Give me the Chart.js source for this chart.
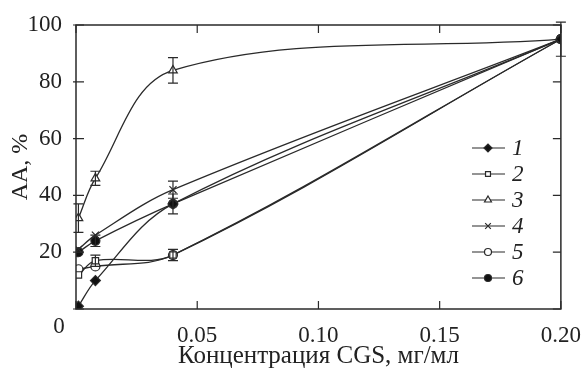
<!DOCTYPE html>
<html>
    <head>
        <title>AA vs CGS concentration</title>
        <script src="https://cdn.jsdelivr.net/npm/chart.js@4.4.0/dist/chart.umd.min.js"></script>
        <style>
            body { margin: 0; background: #ffffff; }
        </style>
    </head>
    <body>
        <canvas id="aaChart" width="586" height="374"></canvas>

        <script>
            //Concentrations of CGS, mg/ml
            const conc = [0.001, 0.008, 0.04, 0.2];

            //Series names shown in the legend
            const seriesNames = ["1", "2", "3", "4", "5", "6"];

            //AA, % for every series
            const series1 = [1, 10, 37, 95];
            const series2 = [12, 17, 19, 95];
            const series3 = [32, 46, 84, 95];
            const series4 = [21, 26, 42, 95];
            const series5 = [14, 15, 19, 95];
            const series6 = [20, 24, 37, 95];

            //Error bar half heights (0 = no bar)
            const err1 = [0, 0, 0, 0];
            const err2 = [0, 2, 2, 0];
            const err3 = [5, 2.5, 4.5, 6];
            const err4 = [0, 0, 3, 0];
            const err5 = [0, 0, 0, 0];
            const err6 = [0, 2, 3.5, 0];

            //Tick labels
            const xTicks = [0, 0.05, 0.10, 0.15, 0.20];
            const yTicks = [0, 20, 40, 60, 80, 100];

            const allSeries = [series1, series2, series3, series4, series5, series6];
            const allErrors = [err1, err2, err3, err4, err5, err6];
            const markers = [
                {style: "rectRot", fill: "#111", radius: 5},
                {style: "rect", fill: "#fff", radius: 4.5},
                {style: "triangle", fill: "#fff", radius: 5},
                {style: "crossRot", fill: "#111", radius: 5},
                {style: "circle", fill: "#fff", radius: 4.5},
                {style: "circle", fill: "#111", radius: 4.5}
            ];

            const ink = "#2a2a2a";
            const font = "'Liberation Serif', 'Times New Roman', serif";

            //Build datasets from the arrays
            const datasets = [];
            for(var i = 0; i < allSeries.length; i++){
                const pts = [];
                for(var j = 0; j < conc.length; j++){
                    pts.push({x: conc[j], y: allSeries[i][j]});
                }
                datasets.push({
                    label: seriesNames[i],
                    data: pts,
                    borderColor: ink,
                    borderWidth: 1.3,
                    pointStyle: markers[i].style,
                    pointRadius: markers[i].radius,
                    pointBackgroundColor: markers[i].fill,
                    pointBorderColor: ink,
                    pointBorderWidth: 1.2,
                    tension: 0.35,
                    fill: false
                });
            }

            //Frame, inward ticks, error bars, legend
            const decorPlugin = {
                id: "decor",
                afterDatasetsDraw(chart) {
                    const ctx = chart.ctx;
                    const xs = chart.scales.x;
                    const ys = chart.scales.y;
                    ctx.save();
                    ctx.strokeStyle = ink;
                    ctx.lineWidth = 1.2;
                    for(var i = 0; i < allErrors.length; i++){
                        for(var j = 0; j < conc.length; j++){
                            const e = allErrors[i][j];
                            if(!e) continue;
                            const px = xs.getPixelForValue(conc[j]);
                            const top = ys.getPixelForValue(allSeries[i][j] + e);
                            const bot = ys.getPixelForValue(allSeries[i][j] - e);
                            ctx.beginPath();
                            ctx.moveTo(px, top); ctx.lineTo(px, bot);
                            ctx.moveTo(px - 5, top); ctx.lineTo(px + 5, top);
                            ctx.moveTo(px - 5, bot); ctx.lineTo(px + 5, bot);
                            ctx.stroke();
                        }
                    }
                    ctx.restore();
                },
                afterDraw(chart) {
                    const ctx = chart.ctx;
                    const a = chart.chartArea;
                    const xs = chart.scales.x;
                    const ys = chart.scales.y;
                    ctx.save();
                    ctx.strokeStyle = ink;
                    ctx.lineWidth = 1.5;
                    ctx.strokeRect(a.left, a.top, a.right - a.left, a.bottom - a.top);

                    //Inward tick marks on all four sides
                    ctx.lineWidth = 1.2;
                    ctx.beginPath();
                    xTicks.forEach(function(v){
                        const px = xs.getPixelForValue(v);
                        ctx.moveTo(px, a.bottom); ctx.lineTo(px, a.bottom - 8);
                        ctx.moveTo(px, a.top); ctx.lineTo(px, a.top + 8);
                    });
                    yTicks.forEach(function(v){
                        const py = ys.getPixelForValue(v);
                        ctx.moveTo(a.left - 3, py); ctx.lineTo(a.left + 8, py);
                        ctx.moveTo(a.right, py); ctx.lineTo(a.right - 8, py);
                    });
                    ctx.stroke();

                    //Origin label
                    ctx.fillStyle = "#222";
                    ctx.font = "23px " + font;
                    ctx.textAlign = "center";
                    ctx.textBaseline = "middle";
                    ctx.fillText("0", a.left - 17, 327);

                    //Legend: line sample + marker + italic number
                    for(var i = 0; i < datasets.length; i++){
                        const ly = 148 + i * 26;
                        const lx = 472;
                        ctx.strokeStyle = ink;
                        ctx.lineWidth = 1.2;
                        ctx.beginPath();
                        ctx.moveTo(lx, ly); ctx.lineTo(lx + 33, ly);
                        ctx.stroke();
                        ctx.fillStyle = markers[i].fill;
                        if(Chart.helpers && Chart.helpers.drawPoint){
                            Chart.helpers.drawPoint(ctx, {
                                pointStyle: markers[i].style,
                                radius: markers[i].radius - 1,
                                rotation: 0,
                                borderWidth: 1.2
                            }, lx + 16, ly);
                        }
                        ctx.fillStyle = "#222";
                        ctx.font = "italic 23px " + font;
                        ctx.textAlign = "left";
                        ctx.textBaseline = "middle";
                        ctx.fillText(seriesNames[i], lx + 40, ly + 1);
                    }
                    ctx.restore();
                }
            };

            const config = {
                type: "line",
                data: {datasets: datasets},
                options: {
                    responsive: false,
                    animation: false,
                    layout: {padding: {left: 0, right: 23, top: 25, bottom: 0}},
                    plugins: {
                        legend: {display: false},
                        tooltip: {enabled: false}
                    },
                    scales: {
                        x: {
                            type: "linear",
                            min: 0,
                            max: 0.2,
                            afterBuildTicks: function(s){
                                s.ticks = xTicks.map(function(v){ return {value: v}; });
                            },
                            afterFit: function(s){ s.height = 65; },
                            grid: {display: false},
                            border: {display: false},
                            ticks: {
                                color: "#222",
                                padding: 5,
                                font: {family: font, size: 23},
                                callback: function(v){ return v === 0 ? "" : v.toFixed(2); }
                            },
                            title: {
                                display: true,
                                text: "Концентрация CGS, мг/мл",
                                color: "#222",
                                font: {family: font, size: 25},
                                padding: {top: 0, bottom: 3}
                            }
                        },
                        y: {
                            min: 0,
                            max: 100,
                            afterBuildTicks: function(s){
                                s.ticks = yTicks.map(function(v){ return {value: v}; });
                            },
                            afterFit: function(s){ s.width = 76; },
                            grid: {display: false},
                            border: {display: false},
                            ticks: {
                                color: "#222",
                                padding: 6,
                                font: {family: font, size: 23},
                                callback: function(v){ return v === 0 ? "" : String(v); }
                            },
                            title: {
                                display: true,
                                text: "AA, %",
                                color: "#222",
                                font: {family: font, size: 24},
                                padding: {top: 6, bottom: 0}
                            }
                        }
                    }
                },
                plugins: [decorPlugin]
            };

            new Chart(document.getElementById("aaChart"), config);
        </script>
    </body>
</html>
